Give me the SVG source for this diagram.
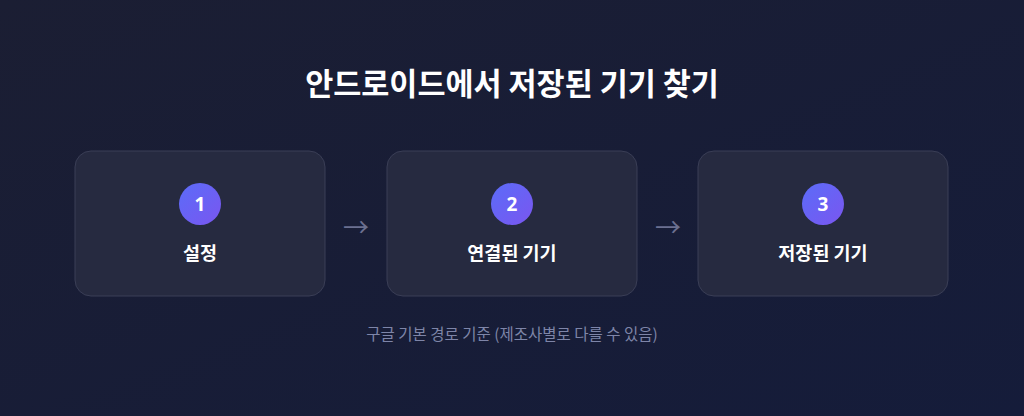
<svg xmlns="http://www.w3.org/2000/svg" width="1024" height="416" viewBox="0 0 1024 416">
<defs>
<linearGradient id="bg" x1="0" y1="0" x2="1" y2="1">
<stop offset="0" stop-color="#1b1e33"/>
<stop offset="1" stop-color="#151c3a"/>
</linearGradient>
<linearGradient id="circ" x1="0" y1="0" x2="1" y2="1">
<stop offset="0" stop-color="#5b6cf8"/>
<stop offset="1" stop-color="#7a56f0"/>
</linearGradient>
<style>
.card{fill:#262a40;stroke:#3a3e56;stroke-width:1}
.num{font-family:"Noto Sans","Noto Sans CJK KR",sans-serif;font-size:19px;font-weight:700;fill:#ffffff;text-anchor:middle}
.lbl{font-family:"Noto Sans CJK KR",sans-serif;font-size:18.5px;font-weight:700;fill:#ffffff;text-anchor:middle}
.title{font-family:"Noto Sans CJK KR",sans-serif;font-size:30.5px;font-weight:700;fill:#ffffff;text-anchor:middle}
.note{font-family:"Noto Sans CJK KR",sans-serif;font-size:15.5px;fill:#7e85a8;text-anchor:middle}
.arr{font-family:"Noto Sans CJK KR",sans-serif;font-size:26px;fill:#6b7090;text-anchor:middle}
</style>
</defs>
<rect width="1024" height="416" fill="url(#bg)"/>
<text class="title" x="512" y="95">안드로이드에서 저장된 기기 찾기</text>
<g id="step1">
<rect class="card" x="75" y="151" width="250" height="145" rx="16"/>
<circle cx="200" cy="204" r="21" fill="url(#circ)"/>
<text class="num" x="200" y="211">1</text>
<text class="lbl" x="200" y="260">설정</text>
</g>
<g id="step2">
<rect class="card" x="387" y="151" width="250" height="145" rx="16"/>
<circle cx="512" cy="204" r="21" fill="url(#circ)"/>
<text class="num" x="512" y="211">2</text>
<text class="lbl" x="512" y="260">연결된 기기</text>
</g>
<g id="step3">
<rect class="card" x="698" y="151" width="250" height="145" rx="16"/>
<circle cx="823" cy="204" r="21" fill="url(#circ)"/>
<text class="num" x="823" y="211">3</text>
<text class="lbl" x="823" y="260">저장된 기기</text>
</g>
<g id="connectors">
<text class="arr" x="356" y="237">→</text>
<text class="arr" x="668" y="237">→</text>
</g>
<text class="note" x="512" y="340">구글 기본 경로 기준 (제조사별로 다를 수 있음)</text>
</svg>
